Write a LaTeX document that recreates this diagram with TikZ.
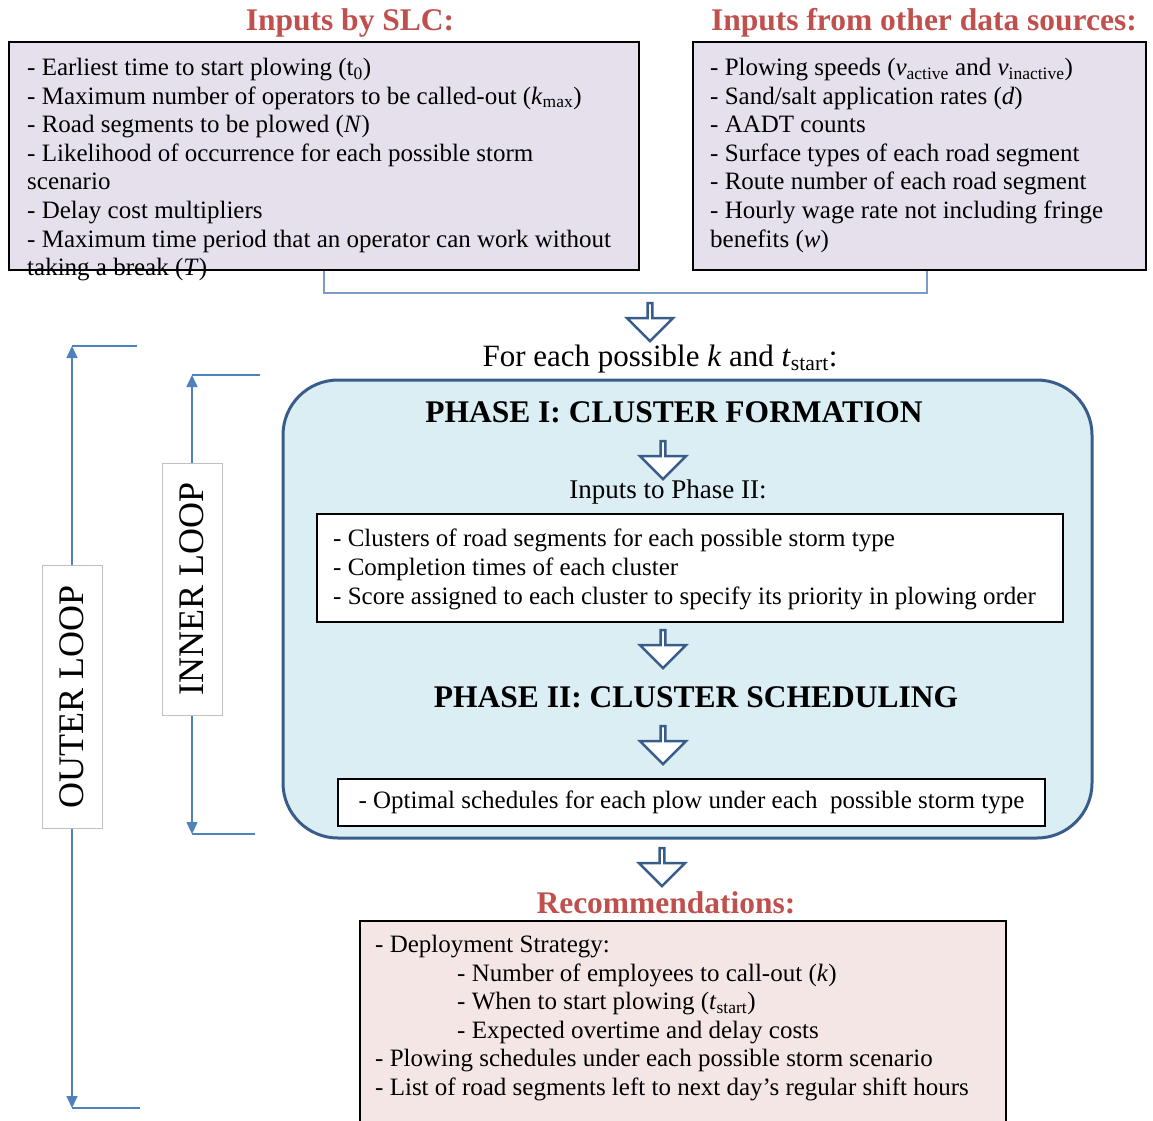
\documentclass[tikz,border=0pt]{standalone}
\usepackage{fontspec}
\setmainfont{Liberation Serif}
\usetikzlibrary{arrows.meta,shapes.arrows}

\definecolor{titlered}{HTML}{C0504D}
\definecolor{lavender}{HTML}{E5E0EC}
\definecolor{phaseblue}{HTML}{DBEEF4}
\definecolor{pinkfill}{HTML}{F5E6E6}
\definecolor{arrowblue}{HTML}{385D8A}
\definecolor{loopblue}{HTML}{4F81BD}
\definecolor{joinblue}{HTML}{7A9CC6}

\newcommand{\bodyfont}{\fontsize{25}{28.6}\selectfont}
\newcommand{\headfont}{\fontsize{31.5}{36}\selectfont\bfseries}
\newcommand{\loopfont}{\fontsize{36}{40}\selectfont}

\begin{document}
\begin{tikzpicture}[x=1pt,y=-1pt]
\tikzstyle{listbox} = [draw=black, line width=1.5pt, inner sep=0pt]
\tikzstyle{listtext} = [anchor=north west, align=left, inner sep=0pt, font=\bodyfont]
\tikzstyle{heading} = [text=titlered, font=\headfont]
\tikzstyle{downarrow} = [single arrow, draw=arrowblue, fill=white, line width=2.5pt, shape border rotate=270, minimum height=38pt, minimum width=46pt, single arrow head extend=11pt, single arrow head indent=0pt, inner sep=0pt]
\tikzstyle{loopline} = [draw=loopblue, line width=1.5pt]
\tikzstyle{loopbox} = [draw=black!25, line width=1pt, fill=white, rotate=90, minimum height=60pt, font=\loopfont]
\useasboundingbox (0,0) rectangle (1153,1120);

% inputs
\node[heading] (slctitle) at (350,23) {Inputs by SLC:};
\node[heading] (othertitle) at (924,23) {Inputs from other data sources:};
\node[listbox, fill=lavender, minimum width=630pt, minimum height=228pt] (slc) at (324,156) {};
\node[listtext] (slctext) at (27,58) {- Earliest time to start plowing (t\textsubscript{0})\\
- Maximum number of operators to be called-out (\textit{k}\textsubscript{max})\\
- Road segments to be plowed (\textit{N})\\
- Likelihood of occurrence for each possible storm\\
scenario\\
- Delay cost multipliers\\
- Maximum time period that an operator can work without\\
taking a break (\textit{T})};
\node[listbox, fill=lavender, minimum width=453pt, minimum height=228pt] (other) at (919.5,156) {};
\node[listtext] (othertext) at (710,58) {- Plowing speeds (\textit{v}\textsubscript{active} and \textit{v}\textsubscript{inactive})\\
- Sand/salt application rates (\textit{d})\\
- AADT counts\\
- Surface types of each road segment\\
- Route number of each road segment\\
- Hourly wage rate not including fringe\\
benefits (\textit{w})};
\coordinate (joinl) at (324,293);
\coordinate (joinr) at (927,293);
\draw[draw=joinblue, line width=1.5pt] (slc.south) -- (joinl) -- (joinr) -- (joinr |- other.south);
\node[downarrow] (arr1) at (650,321) {};
\node[font=\fontsize{31}{36}\selectfont] (foreach) at (660,359) {For each possible \textit{k} and \textit{t}\textsubscript{start}:};

% phases
\node[draw=arrowblue, line width=3pt, fill=phaseblue, rounded corners=55pt, minimum width=809pt, minimum height=458pt] (phases) at (687.5,609) {};
\node[font=\headfont] (phase1) at (674,412) {PHASE I: CLUSTER FORMATION};
\node[downarrow] (arr2) at (663,459) {};
\node[font=\fontsize{27}{32}\selectfont] (inputs2) at (668,492) {Inputs to Phase II:};
\node[listbox, fill=white, minimum width=746pt, minimum height=108pt] (clusters) at (690,568) {};
\node[listtext] (clustertext) at (333,529) {- Clusters of road segments for each possible storm type\\
- Completion times of each cluster\\
- Score assigned to each cluster to specify its priority in plowing order};
\node[downarrow] (arr3) at (663,648) {};
\node[font=\headfont] (phase2) at (696,697) {PHASE II: CLUSTER SCHEDULING};
\node[downarrow] (arr4) at (663,744) {};
\node[listbox, fill=white, minimum width=707pt, minimum height=47pt, font=\bodyfont] (schedules) at (691.5,802.5) {\raisebox{-3pt}{- Optimal schedules for each plow under each \ possible storm type}};
\node[downarrow] (arr5) at (662,866) {};

% recommendations
\node[heading] (rectitle) at (666,903) {Recommendations:};
\node[listbox, fill=pinkfill, anchor=north west, minimum width=646pt, minimum height=220pt] (recs) at (359,920) {};
\node[listtext] (rectext) at (375,935) {- Deployment Strategy:\\
\hspace*{82pt}- Number of employees to call-out (\textit{k})\\
\hspace*{82pt}- When to start plowing (\textit{t}\textsubscript{start})\\
\hspace*{82pt}- Expected overtime and delay costs\\
- Plowing schedules under each possible storm scenario\\
- List of road segments left to next day’s regular shift hours};

% loops
\node[loopbox, minimum width=263pt] (outer) at (72,696.5) {OUTER LOOP};
\coordinate (otop) at (72,346);
\coordinate (otopr) at (137,346);
\coordinate (obot) at (72,1108);
\coordinate (obotr) at (140,1108);
\draw[loopline, -{Triangle[length=12pt, width=11pt]}] (outer.east) -- (otop);
\draw[loopline, -{Triangle[length=12pt, width=11pt]}] (outer.west) -- (obot);
\draw[loopline] (otop) -- (otopr);
\draw[loopline] (obot) -- (obotr);
\node[loopbox, minimum width=252pt] (inner) at (192,589) {INNER LOOP};
\coordinate (itop) at (192,375);
\coordinate (itopr) at (260,375);
\coordinate (ibot) at (192,834);
\coordinate (ibotr) at (255,834);
\draw[loopline, -{Triangle[length=12pt, width=11pt]}] (inner.east) -- (itop);
\draw[loopline, -{Triangle[length=12pt, width=11pt]}] (inner.west) -- (ibot);
\draw[loopline] (itop) -- (itopr);
\draw[loopline] (ibot) -- (ibotr);
\end{tikzpicture}
\end{document}
